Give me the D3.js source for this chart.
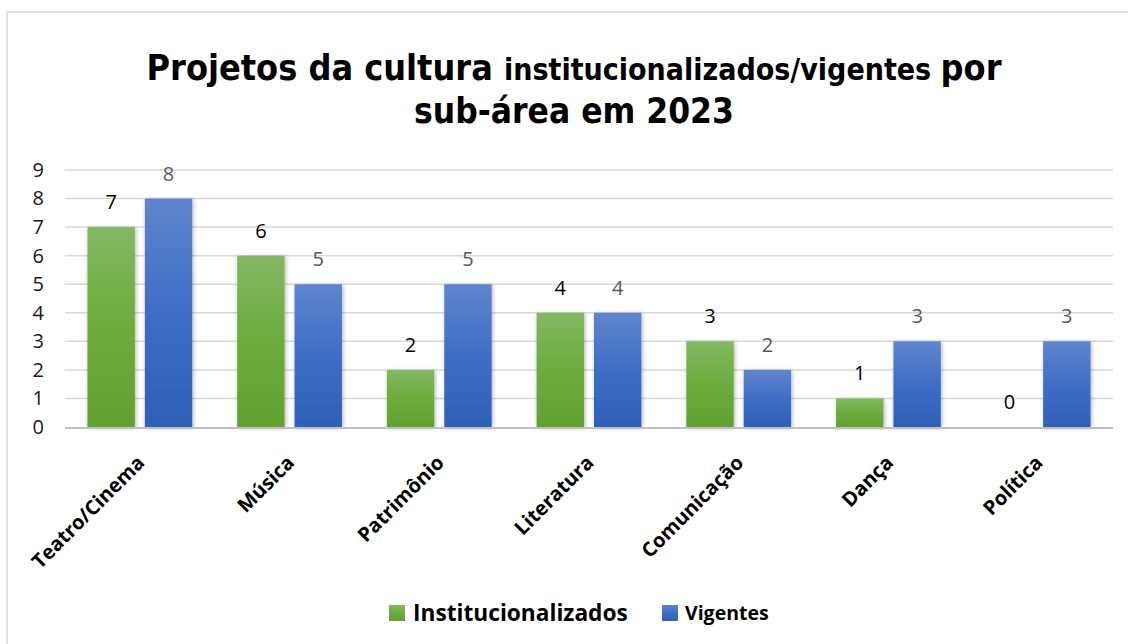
<!DOCTYPE html>
<html>
<head>
<meta charset="utf-8">
<script src="https://cdn.jsdelivr.net/npm/d3@7"></script>
<style>
  html, body { margin: 0; padding: 0; background: #fff; }
  svg { display: block; }
</style>
</head>
<body>
<svg id="chart"></svg>
<script>
// categories and series
var categories = ["Teatro/Cinema", "Música", "Patrimônio", "Literatura", "Comunicação", "Dança", "Política"];
var institucionalizados = [7, 6, 2, 4, 3, 1, 0];
var vigentes = [8, 5, 5, 4, 2, 3, 3];
var seriesNames = ["Institucionalizados", "Vigentes"];
var yTicks = [0, 1, 2, 3, 4, 5, 6, 7, 8, 9];

var W = 1128, H = 644;
var plotLeft = 65, plotRight = 1113, plotTop = 170, plotBottom = 427;

var svg = d3.select("#chart").attr("width", W).attr("height", H);

var defs = svg.append("defs");
var gGreen = defs.append("linearGradient").attr("id", "gGreen")
    .attr("x1", 0).attr("y1", 0).attr("x2", 0).attr("y2", 1);
gGreen.append("stop").attr("offset", "0%").attr("stop-color", "#82b863");
gGreen.append("stop").attr("offset", "50%").attr("stop-color", "#6cac3c");
gGreen.append("stop").attr("offset", "100%").attr("stop-color", "#62a132");
var gBlue = defs.append("linearGradient").attr("id", "gBlue")
    .attr("x1", 0).attr("y1", 0).attr("x2", 0).attr("y2", 1);
gBlue.append("stop").attr("offset", "0%").attr("stop-color", "#5f85cd");
gBlue.append("stop").attr("offset", "50%").attr("stop-color", "#3f6dc6");
gBlue.append("stop").attr("offset", "100%").attr("stop-color", "#2e60b8");
var shadow = defs.append("filter").attr("id", "shadow")
    .attr("x", "-30%").attr("y", "-10%").attr("width", "160%").attr("height", "120%");
shadow.append("feDropShadow").attr("dx", 1).attr("dy", 1)
    .attr("stdDeviation", 2.2).attr("flood-color", "#000").attr("flood-opacity", 0.3);

// border
svg.append("rect").attr("x", 7).attr("y", 12).attr("width", 1130).attr("height", 640)
    .attr("fill", "#fff").attr("stroke", "#d9d9d9").attr("stroke-width", 1.5);

// title
var titleFont = "'DejaVu Sans Condensed', 'DejaVu Sans', sans-serif";
var title = svg.append("text").attr("text-anchor", "middle")
    .attr("x", 574).attr("y", 80)
    .style("font-family", titleFont).style("font-stretch", "condensed")
    .style("font-weight", "bold").attr("fill", "#000");
title.append("tspan").style("font-size", "35.7px").text("Projetos da cultura ");
title.append("tspan").style("font-size", "30px").text("institucionalizados/vigentes  ");
title.append("tspan").style("font-size", "35.7px").text("por");
svg.append("text").attr("text-anchor", "middle")
    .attr("x", 574).attr("y", 123)
    .style("font-family", titleFont).style("font-stretch", "condensed")
    .style("font-weight", "bold").style("font-size", "35px").attr("fill", "#000")
    .text("sub-área em 2023");

var x0 = d3.scaleBand().domain(categories).range([plotLeft, plotRight]).padding(0);
var bw = x0.bandwidth();
var x1 = d3.scaleBand().domain(seriesNames).range([bw * 0.15, bw * 0.85]).paddingInner(0.174);
var y = d3.scaleLinear().domain([0, 9]).range([plotBottom, plotTop]);

// grid
svg.append("g").selectAll("line").data(yTicks.slice(1)).enter().append("line")
    .attr("x1", plotLeft).attr("x2", plotRight)
    .attr("y1", function(d) { return y(d); }).attr("y2", function(d) { return y(d); })
    .attr("stroke", "#d9d9d9").attr("stroke-width", 1.5);

// y axis labels
var yAxis = svg.append("g").attr("transform", "translate(" + (plotLeft - 21) + ",0)")
    .call(d3.axisLeft(y).tickValues(yTicks).tickSize(0).tickPadding(0));
yAxis.select(".domain").remove();
yAxis.selectAll("text").style("font-family", "'Open Sans', sans-serif")
    .style("font-size", "20px").attr("fill", "#1a1a1a");

var rows = categories.map(function(c, i) {
    return { cat: c, vals: [
        { s: "Institucionalizados", v: institucionalizados[i] },
        { s: "Vigentes", v: vigentes[i] }
    ] };
});
var fills = { "Institucionalizados": "url(#gGreen)", "Vigentes": "url(#gBlue)" };
var labelColors = { "Institucionalizados": "#000", "Vigentes": "#595959" };

var groups = svg.append("g").selectAll("g").data(rows).enter().append("g")
    .attr("transform", function(d) { return "translate(" + x0(d.cat) + ",0)"; });

groups.selectAll("rect").data(function(d) { return d.vals.filter(function(e) { return e.v > 0; }); })
    .enter().append("rect")
    .attr("x", function(d) { return x1(d.s); })
    .attr("width", x1.bandwidth())
    .attr("y", function(d) { return y(d.v); })
    .attr("height", function(d) { return y(0) - y(d.v); })
    .attr("fill", function(d) { return fills[d.s]; })
    .attr("filter", "url(#shadow)");

groups.selectAll("text").data(function(d) { return d.vals; })
    .enter().append("text")
    .attr("text-anchor", "middle")
    .attr("x", function(d) { return x1(d.s) + x1.bandwidth() / 2; })
    .attr("y", function(d) { return y(d.v) - 18; })
    .style("font-family", "'Open Sans', sans-serif").style("font-size", "20px")
    .attr("fill", function(d) { return labelColors[d.s]; })
    .text(function(d) { return d.v; });

// baseline
svg.append("line").attr("x1", plotLeft).attr("x2", plotRight).attr("y1", plotBottom + 1).attr("y2", plotBottom + 1)
    .attr("stroke", "#bfbfbf").attr("stroke-width", 2);

// category labels
svg.append("g").selectAll("text").data(categories).enter().append("text")
    .attr("text-anchor", "end")
    .attr("transform", function(d) {
        return "translate(" + (x0(d) + bw / 2 + 6) + "," + (plotBottom + 37) + ") rotate(-45)";
    })
    .style("font-family", "'Open Sans', sans-serif").style("font-weight", "bold")
    .style("font-size", "20px").attr("fill", "#000")
    .text(function(d) { return d; });

// legend
var legend = svg.append("g");
legend.append("rect").attr("x", 389).attr("y", 605).attr("width", 16).attr("height", 16).attr("fill", "url(#gGreen)");
legend.append("text").attr("x", 413).attr("y", 621)
    .style("font-family", "'Open Sans', sans-serif").style("font-weight", "bold")
    .style("font-size", "22.7px").attr("fill", "#000").text(seriesNames[0]);
legend.append("rect").attr("x", 662).attr("y", 605).attr("width", 16).attr("height", 16).attr("fill", "url(#gBlue)");
legend.append("text").attr("x", 685).attr("y", 620)
    .style("font-family", "'Open Sans', sans-serif").style("font-weight", "bold")
    .style("font-size", "19.5px").attr("fill", "#000").text(seriesNames[1]);
</script>
</body>
</html>
